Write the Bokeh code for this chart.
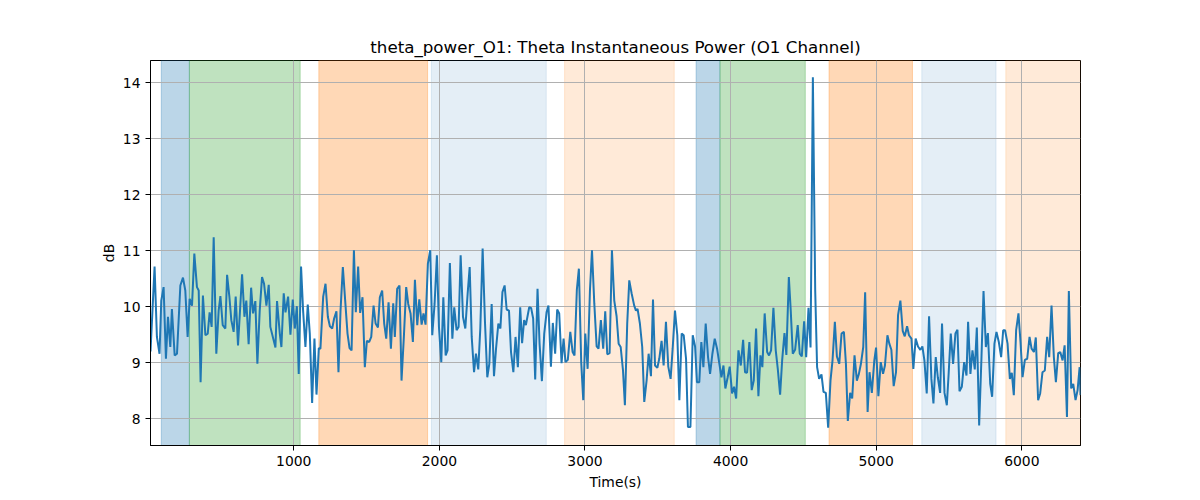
from bokeh.plotting import figure
from bokeh.models import BoxAnnotation, FixedTicker, Range1d
from bokeh.embed import file_html
from bokeh.resources import INLINE

# ---- data ----
time_s = [16, 44, 60, 78, 90, 106, 122, 136, 152, 163, 182, 198, 221, 239, 255, 271, 285, 301, 317, 335,
          347, 360, 376, 393, 409, 422, 436, 450, 468, 484, 496, 512, 530, 542, 558, 571, 587, 601, 617, 645,
          661, 674, 690, 707, 720, 736, 750, 766, 782, 796, 812, 828,
          839, 874, 885, 904, 915, 931, 943, 961, 977, 993, 1007, 1021, 1034, 1050, 1064, 1080, 1096, 1110,
          1126, 1142, 1156, 1172, 1183, 1202, 1218, 1234, 1248, 1264, 1277, 1293, 1307, 1321, 1337, 1353,
          1369, 1383, 1397, 1413, 1426, 1442, 1456, 1472, 1488, 1502, 1518, 1532, 1548, 1562, 1578, 1591,
          1607, 1621, 1635, 1651, 1667, 1683,
          1694, 1710, 1726, 1740, 1756, 1772, 1786, 1802, 1818, 1832, 1848, 1862, 1878, 1891, 1905, 1921,
          1937, 1951, 1967, 1983, 1997, 2013, 2027, 2043, 2056, 2072, 2089, 2102, 2118, 2132, 2146, 2162,
          2178, 2194, 2208, 2222, 2238, 2251, 2267, 2281, 2297, 2313, 2329, 2343, 2359, 2375, 2389, 2405,
          2419, 2433, 2448, 2462, 2478, 2492, 2508,
          2523, 2539, 2555, 2568, 2582, 2594, 2617, 2630, 2644, 2658, 2674, 2688, 2704, 2720, 2736, 2749,
          2766, 2779, 2795, 2809, 2823, 2839, 2853, 2866, 2882, 2899, 2915, 2928, 2944, 2958, 2974, 2988,
          3002, 3018, 3034, 3048, 3064, 3080, 3093, 3109, 3125, 3139, 3153, 3169, 3185, 3201, 3217, 3231,
          3245, 3261, 3274, 3290, 3304, 3320, 3338,
          3350, 3361, 3377, 3393, 3407, 3423, 3437, 3453, 3467, 3481, 3497, 3510, 3526, 3540, 3556, 3572,
          3588, 3602, 3618, 3634, 3648, 3664, 3678, 3694, 3707, 3724, 3740, 3756, 3769, 3785, 3799, 3813,
          3829, 3845, 3859, 3875, 3891, 3907, 3923, 3937, 3951, 3964, 3980, 3994, 4010, 4024, 4038, 4054,
          4070, 4086, 4099, 4113, 4129, 4145, 4159,
          4175, 4191, 4205, 4218, 4234, 4251, 4264, 4278, 4294, 4310, 4324, 4340, 4354, 4370, 4383, 4400,
          4413, 4427, 4443, 4461, 4475, 4489, 4505, 4519, 4535, 4549, 4565, 4581, 4594, 4608, 4624, 4638,
          4654, 4670, 4686, 4700, 4716, 4730, 4746, 4762, 4778, 4792, 4805, 4821, 4835, 4851, 4867, 4881,
          4895, 4911, 4924, 4941, 4954, 4970, 4987,
          4999, 5015, 5031, 5047, 5060, 5077, 5090, 5104, 5120, 5136, 5150, 5166, 5182, 5196, 5212, 5225,
          5242, 5255, 5271, 5287, 5303, 5317, 5331, 5347, 5363, 5379, 5393, 5409, 5423, 5439, 5452, 5469,
          5485, 5498, 5512, 5528, 5544, 5558, 5572, 5588, 5604, 5620, 5631, 5647, 5661, 5677, 5691, 5707,
          5723, 5737, 5753, 5767, 5783, 5796,
          5812, 5826, 5842, 5858, 5872, 5885, 5902, 5918, 5931, 5945, 5961, 5977, 5991, 6005, 6021, 6037,
          6053, 6067, 6083, 6096, 6112, 6126, 6142, 6158, 6174, 6188, 6204, 6220, 6234, 6250, 6264, 6280,
          6294, 6310, 6323, 6339, 6353, 6369, 6383, 6397, 6403]

power_db = [9.20, 10.72, 9.46, 9.16, 10.11, 10.35, 9.07, 9.82, 9.28, 9.96, 9.13, 9.16, 10.38, 10.52, 10.29, 9.46, 10.14, 10.02, 10.95, 10.35,
            10.29, 8.65, 10.20, 9.49, 9.52, 9.90, 9.64, 11.24, 9.16, 9.93, 10.19, 9.67, 9.61, 10.57, 10.17, 9.76, 9.55, 10.18, 9.31, 10.58,
            9.82, 10.11, 9.33, 10.34, 9.88, 10.10, 8.98, 9.93, 10.53, 10.41, 10.02, 10.39,
            9.64, 9.27, 10.10, 9.52, 9.28, 10.24, 9.90, 10.18, 9.50, 10.13, 9.61, 10.01, 8.80, 10.72, 9.93, 9.28, 10.04, 9.52,
            8.28, 9.43, 8.43, 9.26, 9.25, 10.18, 10.41, 9.82, 9.65, 9.61, 9.79, 9.92, 8.83, 9.93, 10.71, 10.11,
            9.52, 9.26, 9.22, 11.01, 9.90, 10.72, 9.89, 10.17, 8.92, 9.39, 9.37, 9.46, 10.02, 9.70, 9.63, 10.17,
            10.29, 9.70, 9.43, 10.08, 9.25, 10.06,
            9.46, 10.32, 10.38, 8.68, 9.46, 10.35, 10.05, 9.88, 9.37, 10.48, 9.67, 10.13, 9.68, 9.88, 9.68, 10.77,
            11.01, 9.49, 10.05, 10.92, 9.64, 9.01, 10.17, 9.13, 9.22, 10.78, 9.43, 9.99, 9.58, 9.64, 10.92, 9.82,
            9.61, 10.23, 10.71, 9.46, 8.83, 9.16, 8.88, 9.61, 11.04, 9.73, 8.74, 8.98, 10.05, 8.76, 9.25, 9.70,
            9.61, 10.26, 10.38, 9.95, 9.93, 9.19, 8.83,
            9.46, 8.92, 9.99, 9.35, 9.76, 9.67, 9.99, 9.98, 9.79, 8.70, 10.32, 9.34, 8.67, 9.52, 9.90, 10.02,
            8.93, 9.71, 9.16, 9.95, 9.88, 8.99, 9.43, 9.01, 9.05, 9.55, 9.19, 9.13, 10.30, 10.68, 9.01, 8.33,
            9.52, 8.89, 10.29, 11.01, 10.05, 9.29, 9.25, 9.76, 9.25, 9.92, 9.15, 9.17, 11.01, 10.11, 9.83, 9.34,
            9.28, 8.86, 8.24, 9.70, 10.47, 10.24, 10.02,
            9.93, 9.96, 9.70, 9.28, 8.30, 8.68, 9.16, 8.76, 10.13, 8.95, 8.91, 9.07, 9.39, 8.95, 9.73, 8.93,
            8.71, 9.25, 9.93, 9.49, 8.33, 9.52, 9.49, 9.07, 7.85, 7.85, 9.49, 9.29, 8.65, 8.65, 9.37, 8.92,
            9.70, 9.10, 8.80, 9.16, 9.43, 9.25, 8.98, 8.74, 8.95, 8.54, 8.74, 8.93, 8.45, 8.57, 8.36, 9.22,
            8.95, 9.41, 8.83, 8.82, 9.37, 8.51, 8.68,
            9.61, 8.40, 9.13, 8.92, 9.88, 9.19, 9.13, 9.22, 9.98, 9.22, 8.89, 8.43, 9.04, 9.53, 9.14, 10.53,
            9.93, 9.16, 9.23, 9.67, 9.16, 9.11, 9.74, 9.10, 9.98, 9.27, 14.10, 10.29, 8.92, 8.71, 8.79, 8.48,
            8.46, 7.84, 8.68, 9.04, 9.73, 9.11, 8.98, 9.52, 9.55, 8.98, 7.96, 8.46, 8.36, 9.13, 8.68, 8.80,
            8.98, 9.28, 10.26, 8.12, 8.83, 8.46, 9.04,
            9.27, 8.40, 9.01, 8.80, 8.95, 9.49, 9.34, 9.23, 8.58, 8.83, 9.85, 10.11, 9.57, 9.47, 9.65, 9.49,
            9.43, 8.89, 9.43, 9.29, 9.23, 9.29, 9.04, 8.45, 9.83, 8.71, 8.27, 9.10, 8.74, 8.46, 9.70, 8.46,
            8.24, 8.83, 9.52, 8.98, 9.52, 9.59, 8.49, 8.57, 9.01, 8.77, 9.73, 8.80, 9.22, 8.88, 9.63, 7.88,
            9.10, 10.28, 9.28, 9.53, 8.62, 8.39,
            9.34, 9.55, 9.37, 9.10, 9.58, 9.58, 9.34, 8.71, 8.82, 8.42, 9.58, 9.88, 9.37, 8.74, 9.05, 9.07,
            9.46, 9.25, 9.19, 9.45, 8.33, 8.45, 8.83, 8.86, 9.46, 9.10, 10.02, 9.10, 8.65, 9.17, 9.19, 9.04,
            9.31, 8.03, 10.28, 8.54, 8.62, 8.33, 8.51, 8.92, 8.42]

# shaded segments (start, end, colour, alpha)
seg_start = [90, 283, 1172, 1945, 2860, 3763, 3927, 4676, 5313, 5890]
seg_end = [283, 1044, 1919, 2734, 3613, 3927, 4513, 5249, 5823, 6420]
seg_color = ["#1f77b4", "#2ca02c", "#ff7f0e", "#1f77b4", "#ff7f0e",
             "#1f77b4", "#2ca02c", "#ff7f0e", "#1f77b4", "#ff7f0e"]
seg_alpha = [0.3, 0.3, 0.3, 0.12, 0.16, 0.3, 0.3, 0.3, 0.12, 0.16]

x_ticks = [1000, 2000, 3000, 4000, 5000, 6000]
y_ticks = [8, 9, 10, 11, 12, 13, 14]

FONT = "DejaVu Sans"

p = figure(width=1192, height=492, output_backend="svg", toolbar_location=None,
           x_range=Range1d(16, 6403), y_range=Range1d(7.52, 14.40),
           min_border_left=150, min_border_right=112, min_border_top=60, min_border_bottom=47,
           title="theta_power_O1: Theta Instantaneous Power (O1 Channel)")
p.background_fill_color = "white"
p.border_fill_color = "white"
p.outline_line_color = "black"
p.outline_line_alpha = 1
p.outline_line_width = 1

p.title.align = "center"
p.title.text_font = FONT
p.title.text_font_size = "16.7px"
p.title.text_font_style = "normal"
p.title.text_color = "black"
p.title.offset = 0
p.title.standoff = 8

for s, e, c, a in zip(seg_start, seg_end, seg_color, seg_alpha):
    p.add_layout(BoxAnnotation(left=s, right=e, fill_color=c, fill_alpha=a,
                               line_color=c, line_alpha=a, line_width=1, level="image"))

p.line(time_s, power_db, line_color="#1f77b4", line_width=2)

p.xaxis.ticker = FixedTicker(ticks=x_ticks)
p.yaxis.ticker = FixedTicker(ticks=y_ticks)
p.xaxis.axis_label = "Time(s)"
p.yaxis.axis_label = "dB"
for ax in (p.xaxis[0], p.yaxis[0]):
    ax.axis_label_text_font = FONT
    ax.axis_label_text_font_size = "13.9px"
    ax.axis_label_text_font_style = "normal"
    ax.axis_label_text_color = "black"
    ax.major_label_text_font = FONT
    ax.major_label_text_font_size = "13.9px"
    ax.major_label_text_color = "black"
    ax.minor_tick_line_color = None
    ax.major_tick_in = 0
    ax.major_tick_out = 5
    ax.major_tick_line_color = "black"
    ax.axis_line_color = "black"
p.yaxis[0].axis_label_standoff = 3

p.grid.grid_line_color = "#b0b0b0"
p.grid.grid_line_width = 1

open("out.html", "w").write(file_html(p, INLINE))
